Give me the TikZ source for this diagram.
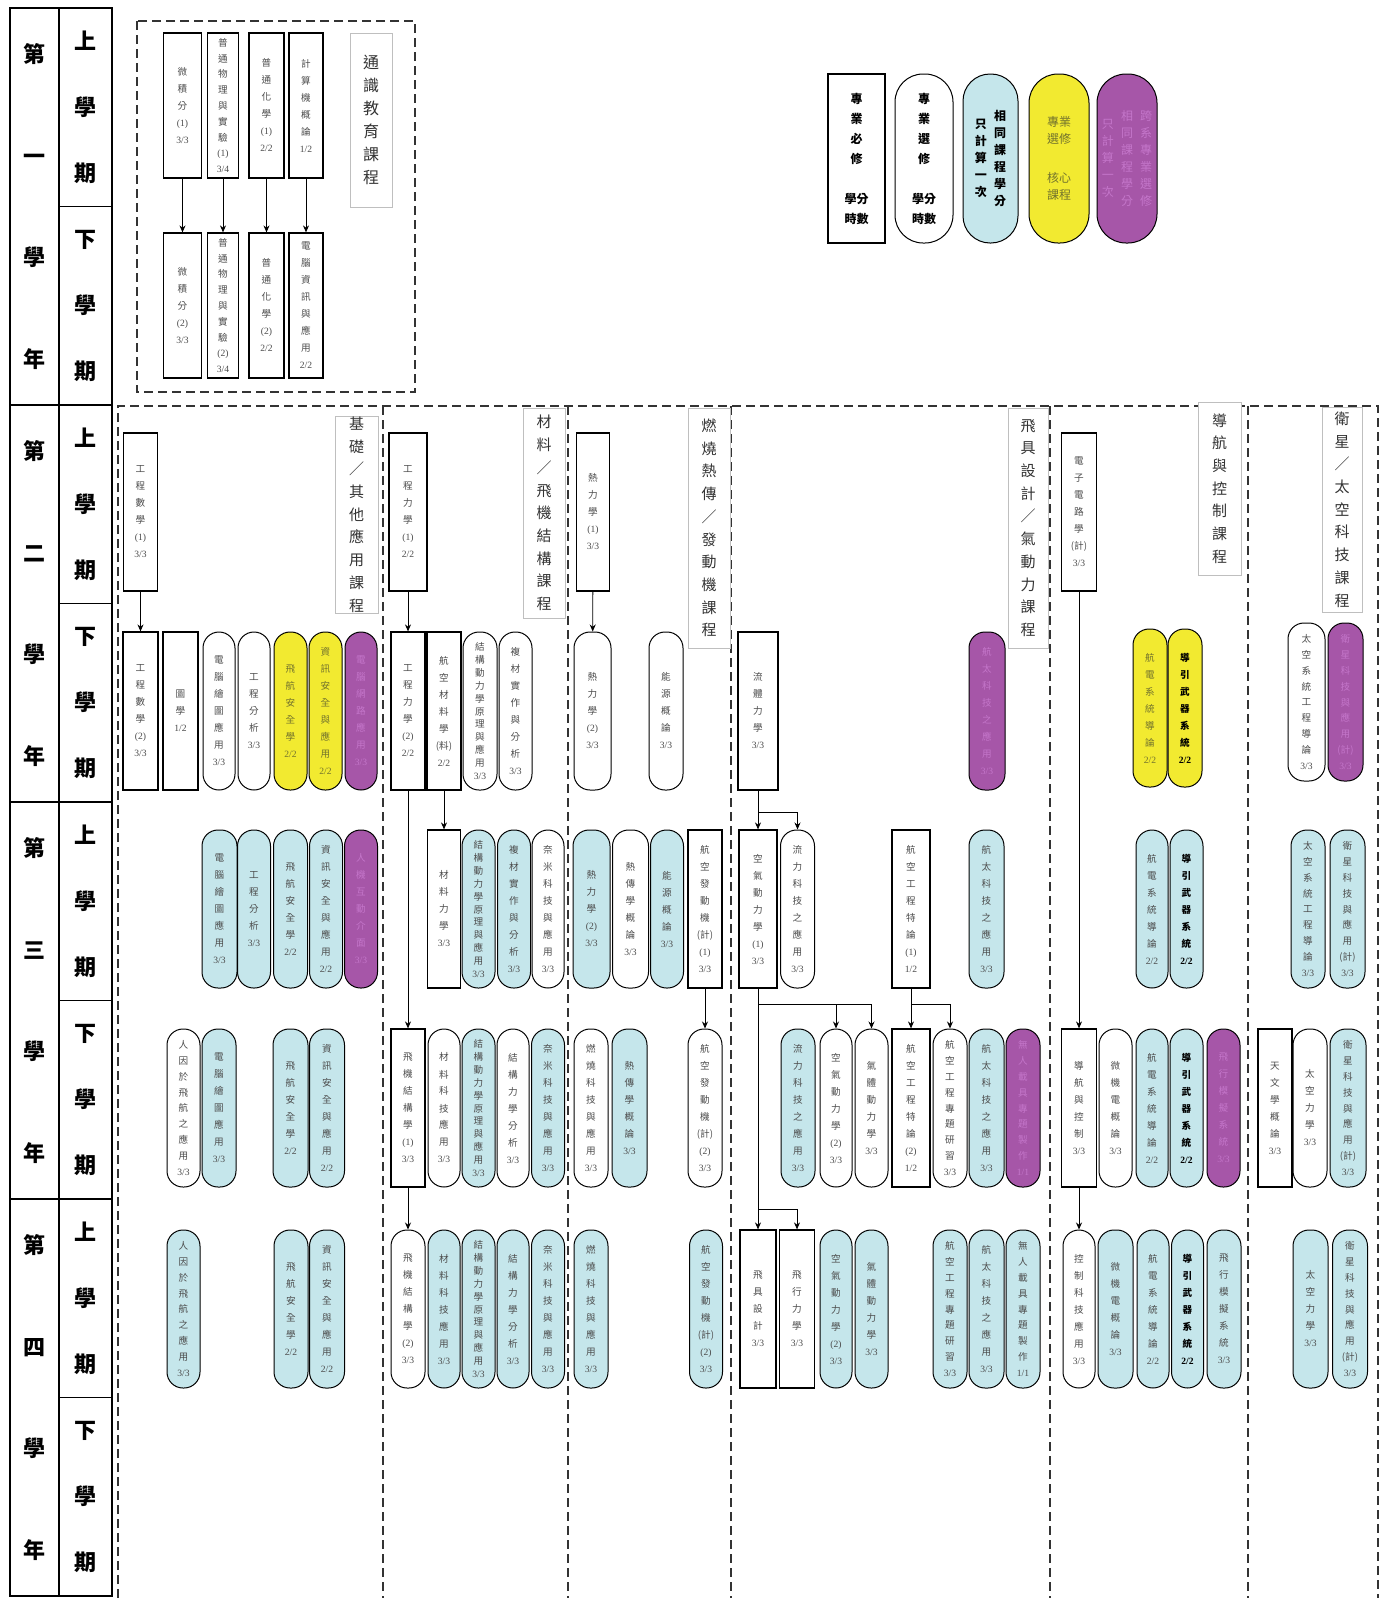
\documentclass[tikz,border=0pt]{standalone}
\usepackage{fontspec}
\setmainfont{Liberation Serif}
\newfontfamily\cjk{Noto Sans CJK TC}
\usetikzlibrary{arrows.meta}

\definecolor{cblue}{RGB}{197,230,235}
\definecolor{cyel}{RGB}{242,234,48}
\definecolor{cpur}{RGB}{166,86,168}
\definecolor{colive}{RGB}{115,115,45}
\definecolor{cpurtxt}{RGB}{196,118,202}

\makeatletter
\newcount\vtn
\newdimen\vtsk
% vertical course text: characters, then number lines
\newcommand\vt[2]{\vbox{\vtn=0
	\@tfor\vch:=#1\do{\advance\vtn by 1 }%
	\@tfor\vch:=#2\do{\advance\vtn by 1 }%
	\vtsk=\dimexpr 142pt/\vtn\relax
	\ifdim\vtsk>17pt \vtsk=17pt \fi
	\baselineskip=\vtsk \lineskiplimit=-\maxdimen
	\@tfor\vch:=#1\do{\hbox to 14pt{\hss\cjk\vch\hss}}%
	\@tfor\vch:=#2\do{\hbox to 14pt{\hss\vch\hss}}}}
\newcommand\vcol[2]{\vbox{\baselineskip=#1\lineskiplimit=-\maxdimen
	\@tfor\vch:=#2\do{\hbox to 1.1em{\hss\vch\hss}}}}
\makeatother
\newcommand\ctr[1]{\hbox to 40pt{\hss#1\hss}}

\tikzset{
	reqbox/.style={draw, line width=1.2pt, fill=white, text=black!70, minimum width=34pt, minimum height=158pt, inner sep=0pt, font=\fontsize{9.6}{9.6}\selectfont},
	optbox/.style={reqbox, line width=1pt, rounded corners=16pt},
	samebox/.style={optbox, fill=cblue},
	corebox/.style={optbox, fill=cyel, text=colive},
	crossbox/.style={optbox, fill=cpur, text=cpurtxt},
	boldtxt/.style={text=black, font=\fontsize{9.6}{9.6}\selectfont\bfseries},
	trackbox/.style={draw=black!25, line width=0.6pt, fill=white, inner sep=0pt, text=black!80, font=\cjk\fontsize{15}{15}\selectfont},
	flowarrow/.style={-{Stealth[length=7pt,width=6pt]}, line width=0.9pt},
	zoneline/.style={draw=black!80, line width=1.3pt, dash pattern=on 9pt off 5pt},
	cellchar/.style={font=\cjk\bfseries\fontsize{22}{22}\selectfont, inner sep=0pt}
}

\begin{document}
\begin{tikzpicture}[x=1pt,y=-1pt]

	\useasboundingbox (0,0) rectangle (1389,1598);

	% year / semester column
	\draw[line width=1.8pt] (10,8) rectangle (112,1596);
	\draw[line width=1.8pt] (59,8) -- (59,1596);
	\foreach \k in {1,2,3}
		\draw[line width=1.8pt] (10,{8+397*\k}) -- (112,{8+397*\k});
	\foreach \k in {0,...,3}
		\draw[line width=1.8pt] (59,{206.5+397*\k}) -- (112,{206.5+397*\k});
	\foreach \yr [count=\i from 0] in {一,二,三,四}{
		\node[cellchar] (year\i) at (34.5,{206.5+397*\i}) {\vcol{101.7pt}{第\yr 學年}};
		\node[cellchar] (up\i) at (85.5,{107.25+397*\i}) {\vcol{66pt}{上學期}};
		\node[cellchar] (down\i) at (85.5,{305.75+397*\i}) {\vcol{66pt}{下學期}};
	}

	% general education
	\draw[zoneline] (137,21) rectangle (415,392);
	\node[trackbox, minimum width=42pt, minimum height=174pt, font=\cjk\fontsize{16}{16}\selectfont] (gened) at (371,120) {\vcol{23pt}{通識教育課程}};

	\node[reqbox, minimum width=38pt, minimum height=145pt] (calc1) at (182.5,105.5) {\vt{微積分}{{(1)}{3/3}}};
	\node[reqbox, minimum width=31pt, minimum height=145pt] (phys1) at (223,105.5) {\vt{普通物理與實驗}{{(1)}{3/4}}};
	\node[reqbox, minimum width=35pt, minimum height=145pt] (chem1) at (266.5,105.5) {\vt{普通化學}{{(1)}{2/2}}};
	\node[reqbox, minimum width=34pt, minimum height=145pt] (cs1) at (306,105.5) {\vt{計算機概論}{{1/2}}};
	\node[reqbox, minimum width=38pt, minimum height=145pt] (calc2) at (182.5,305.5) {\vt{微積分}{{(2)}{3/3}}};
	\node[reqbox, minimum width=31pt, minimum height=145pt] (phys2) at (223,305.5) {\vt{普通物理與實驗}{{(2)}{3/4}}};
	\node[reqbox, minimum width=35pt, minimum height=145pt] (chem2) at (266.5,305.5) {\vt{普通化學}{{(2)}{2/2}}};
	\node[reqbox, minimum width=34pt, minimum height=145pt] (cinfo) at (306,305.5) {\vt{電腦資訊與應用}{{2/2}}};

	\draw[flowarrow] (calc1) -- (calc2);
	\draw[flowarrow] (phys1) -- (phys2);
	\draw[flowarrow] (chem1) -- (chem2);
	\draw[flowarrow] (cs1) -- (cinfo);

	% legend
	\node[reqbox, minimum width=57pt, minimum height=169pt, text=black, font=\cjk\bfseries\fontsize{12}{12}\selectfont] (key1) at (856.5,158.5)
		{\vbox{\baselineskip=20pt\lineskiplimit=-\maxdimen\ctr{專}\ctr{業}\ctr{必}\ctr{修}\vskip20pt\ctr{學分}\ctr{時數}}};
	\node[optbox, rounded corners=28pt, minimum width=58pt, minimum height=169pt, text=black, font=\cjk\bfseries\fontsize{12}{12}\selectfont] (key2) at (924,158.5)
		{\vbox{\baselineskip=20pt\lineskiplimit=-\maxdimen\ctr{專}\ctr{業}\ctr{選}\ctr{修}\vskip20pt\ctr{學分}\ctr{時數}}};
	\node[samebox, rounded corners=27pt, minimum width=55pt, minimum height=169pt, text=black, font=\cjk\bfseries\fontsize{12}{12}\selectfont] (key3) at (990.5,158.5)
		{$\vcenter{\vcol{17pt}{只計算一次}}\kern6pt\vcenter{\vcol{17pt}{相同課程學分}}$};
	\node[corebox, rounded corners=29pt, minimum width=60pt, minimum height=169pt, font=\cjk\fontsize{12}{12}\selectfont] (key4) at (1059,158.5)
		{\vbox{\baselineskip=17pt\lineskiplimit=-\maxdimen\ctr{專業}\ctr{選修}\vskip22pt\ctr{核心}\ctr{課程}}};
	\node[crossbox, rounded corners=29pt, minimum width=60pt, minimum height=169pt, font=\cjk\fontsize{12}{12}\selectfont] (key5) at (1127,158.5)
		{$\vcenter{\vcol{17pt}{只計算一次}}\kern6pt\vcenter{\vcol{17pt}{相同課程學分}}\kern6pt\vcenter{\vcol{17pt}{跨系專業選修}}$};

	% department courses
	\draw[zoneline] (118,1598) -- (118,406) -- (1378,406) -- (1378,1598);
	\foreach \x in {383,568,731,1050,1248}
		\draw[zoneline] (\x,406) -- (\x,1598);

	\node[trackbox, minimum width=43pt, minimum height=197pt] (basic) at (356.5,514.5) {\vcol{22.7pt}{基礎／其他應用課程}};
	\node[trackbox, minimum width=42pt, minimum height=210pt] (matl) at (544,513) {\vcol{22.7pt}{材料／飛機結構課程}};
	\node[trackbox, minimum width=42pt, minimum height=240pt] (prop) at (709,528) {\vcol{22.7pt}{燃燒熱傳／發動機課程}};
	\node[trackbox, minimum width=40pt, minimum height=240pt] (vehi) at (1028,528) {\vcol{22.7pt}{飛具設計／氣動力課程}};
	\node[trackbox, minimum width=43pt, minimum height=173pt] (navi) at (1219.5,488.5) {\vcol{22.7pt}{導航與控制課程}};
	\node[trackbox, minimum width=40pt, minimum height=205pt] (space) at (1342,509.5) {\vcol{22.7pt}{衛星／太空科技課程}};

	% year 2, first semester
	\node[reqbox] (em1) at (140.5,512) {\vt{工程數學}{{(1)}{3/3}}};
	\node[reqbox, minimum width=38pt] (mech1) at (408,512) {\vt{工程力學}{{(1)}{2/2}}};
	\node[reqbox, minimum width=33pt] (thermo1) at (593,512) {\vt{熱力學}{{(1)}{3/3}}};
	\node[reqbox, minimum width=35pt] (elec) at (1079,512) {\vt{電子電路學}{{\cjk(計)}{3/3}}};

	% year 2, second semester
	\node[reqbox, minimum width=35pt] (em2) at (140.5,711) {\vt{工程數學}{{(2)}{3/3}}};
	\node[reqbox, minimum width=35pt] (graph) at (180.5,711) {\vt{圖學}{{1/2}}};
	\node[optbox, minimum width=32pt] (cad2) at (219,711) {\vt{電腦繪圖應用}{{3/3}}};
	\node[optbox, minimum width=32pt] (ana2) at (254,711) {\vt{工程分析}{{3/3}}};
	\node[corebox, minimum width=33pt] (safe2) at (290.5,711) {\vt{飛航安全學}{{2/2}}};
	\node[corebox, minimum width=33pt] (info2) at (325.5,711) {\vt{資訊安全與應用}{{2/2}}};
	\node[crossbox, minimum width=32pt] (net2) at (361,711) {\vt{電腦網路應用}{{3/3}}};
	\node[reqbox] (mech2) at (408,711) {\vt{工程力學}{{(2)}{2/2}}};
	\node[reqbox] (amat) at (444,711) {\vt{航空材料學}{{\cjk(料)}{2/2}}};
	\node[optbox] (sdyn2) at (480,711) {\vt{結構動力學原理與應用}{{3/3}}};
	\node[optbox, minimum width=33pt] (comp2) at (515.5,711) {\vt{複材實作與分析}{{3/3}}};
	\node[optbox, minimum width=37pt] (thermo2) at (592.5,711) {\vt{熱力學}{{(2)}{3/3}}};
	\node[optbox] (energy2) at (666,711) {\vt{能源概論}{{3/3}}};
	\node[reqbox, minimum width=40pt] (fluid) at (758,711) {\vt{流體力學}{{3/3}}};
	\node[crossbox, minimum width=36pt] (aero2) at (987,711) {\vt{航太科技之應用}{{3/3}}};
	\node[corebox] (avio2) at (1150,708) {\vt{航電系統導論}{{2/2}}};
	\node[corebox, boldtxt] (guid2) at (1185,708) {\vt{導引武器系統}{{2/2}}};
	\node[optbox, minimum width=37pt] (sse2) at (1306.5,702) {\vt{太空系統工程導論}{{3/3}}};
	\node[crossbox, minimum width=35pt] (sat2) at (1345.5,702) {\vt{衛星科技與應用}{{\cjk(計)}{3/3}}};

	% year 3, first semester
	\node[samebox, minimum width=35pt] (cad3) at (219.5,909) {\vt{電腦繪圖應用}{{3/3}}};
	\node[samebox, minimum width=33pt] (ana3) at (254,909) {\vt{工程分析}{{3/3}}};
	\node[samebox] (safe3) at (290.5,909) {\vt{飛航安全學}{{2/2}}};
	\node[samebox, minimum width=33pt] (info3) at (326,909) {\vt{資訊安全與應用}{{2/2}}};
	\node[crossbox, minimum width=33pt] (hci3) at (361,909) {\vt{人機互動介面}{{3/3}}};
	\node[reqbox, minimum width=33pt] (mom) at (444,909) {\vt{材料力學}{{3/3}}};
	\node[samebox, minimum width=33pt] (sdyn3) at (478.5,909) {\vt{結構動力學原理與應用}{{3/3}}};
	\node[samebox, minimum width=33pt] (comp3) at (514,909) {\vt{複材實作與分析}{{3/3}}};
	\node[optbox, minimum width=32pt] (nano3) at (548,909) {\vt{奈米科技與應用}{{3/3}}};
	\node[samebox, minimum width=37pt] (thermo3) at (591.5,909) {\vt{熱力學}{{(2)}{3/3}}};
	\node[optbox, minimum width=36pt] (heat3) at (630.5,909) {\vt{熱傳學概論}{{3/3}}};
	\node[samebox, minimum width=33pt] (energy3) at (667,909) {\vt{能源概論}{{3/3}}};
	\node[reqbox] (eng1) at (705,909) {\vt{航空發動機}{{\cjk(計)}{(1)}{3/3}}};
	\node[reqbox, minimum width=38pt] (aed1) at (758,909) {\vt{空氣動力學}{{(1)}{3/3}}};
	\node[optbox] (fta3) at (797.5,909) {\vt{流力科技之應用}{{3/3}}};
	\node[reqbox, minimum width=38pt] (spec1) at (911,909) {\vt{航空工程特論}{{(1)}{1/2}}};
	\node[samebox, minimum width=35pt] (aero3) at (986.5,909) {\vt{航太科技之應用}{{3/3}}};
	\node[samebox, minimum width=32pt] (avio3) at (1152,909) {\vt{航電系統導論}{{2/2}}};
	\node[samebox, boldtxt, minimum width=33pt] (guid3) at (1186.5,909) {\vt{導引武器系統}{{2/2}}};
	\node[samebox] (sse3) at (1308,909) {\vt{太空系統工程導論}{{3/3}}};
	\node[samebox, minimum width=35pt] (sat3) at (1347.5,909) {\vt{衛星科技與應用}{{\cjk(計)}{3/3}}};

	% year 3, second semester
	\node[optbox, minimum width=33pt] (hf3) at (183.5,1108) {\vt{人因於飛航之應用}{{3/3}}};
	\node[samebox] (cad3l) at (219,1108) {\vt{電腦繪圖應用}{{3/3}}};
	\node[samebox, minimum width=35pt] (safe3l) at (290.5,1108) {\vt{飛航安全學}{{2/2}}};
	\node[samebox, minimum width=35pt] (info3l) at (327,1108) {\vt{資訊安全與應用}{{2/2}}};
	\node[reqbox] (struc1) at (408,1108) {\vt{飛機結構學}{{(1)}{3/3}}};
	\node[optbox, minimum width=32pt] (mst3) at (444,1108) {\vt{材料科技應用}{{3/3}}};
	\node[samebox, minimum width=33pt] (sdyn3l) at (478.5,1108) {\vt{結構動力學原理與應用}{{3/3}}};
	\node[optbox, minimum width=32pt] (sma3) at (513,1108) {\vt{結構力學分析}{{3/3}}};
	\node[samebox, minimum width=33pt] (nano3l) at (548,1108) {\vt{奈米科技與應用}{{3/3}}};
	\node[optbox] (comb3) at (591,1108) {\vt{燃燒科技與應用}{{3/3}}};
	\node[samebox, minimum width=35pt] (heat3l) at (629.5,1108) {\vt{熱傳學概論}{{3/3}}};
	\node[optbox] (eng2) at (705,1108) {\vt{航空發動機}{{\cjk(計)}{(2)}{3/3}}};
	\node[samebox] (fta3l) at (798,1108) {\vt{流力科技之應用}{{3/3}}};
	\node[optbox, minimum width=32pt] (aed2) at (836,1108) {\vt{空氣動力學}{{(2)}{3/3}}};
	\node[optbox, minimum width=33pt] (gas) at (871.5,1108) {\vt{氣體動力學}{{3/3}}};
	\node[reqbox, minimum width=38pt] (spec2) at (911,1108) {\vt{航空工程特論}{{(2)}{1/2}}};
	\node[optbox] (proj) at (950,1108) {\vt{航空工程專題研習}{{3/3}}};
	\node[samebox, minimum width=35pt] (aero3l) at (986.5,1108) {\vt{航太科技之應用}{{3/3}}};
	\node[crossbox] (uav) at (1023,1108) {\vt{無人載具專題製作}{{1/1}}};
	\node[reqbox, minimum width=35pt] (navc) at (1079,1108) {\vt{導航與控制}{{3/3}}};
	\node[optbox, minimum width=33pt] (mems) at (1115.5,1108) {\vt{微機電概論}{{3/3}}};
	\node[samebox, minimum width=32pt] (avio3l) at (1152,1108) {\vt{航電系統導論}{{2/2}}};
	\node[samebox, boldtxt, minimum width=33pt] (guid3l) at (1186.5,1108) {\vt{導引武器系統}{{2/2}}};
	\node[crossbox, minimum width=33pt] (sim) at (1223.5,1108) {\vt{飛行模擬系統}{{3/3}}};
	\node[reqbox] (astro) at (1275,1108) {\vt{天文學概論}{{3/3}}};
	\node[optbox] (smech) at (1310,1108) {\vt{太空力學}{{3/3}}};
	\node[samebox, minimum width=36pt] (sat3l) at (1348,1108) {\vt{衛星科技與應用}{{\cjk(計)}{3/3}}};

	% year 4, first semester
	\node[samebox, minimum width=33pt] (hf4) at (183.5,1309) {\vt{人因於飛航之應用}{{3/3}}};
	\node[samebox] (safe4) at (291,1309) {\vt{飛航安全學}{{2/2}}};
	\node[samebox, minimum width=35pt] (info4) at (327,1309) {\vt{資訊安全與應用}{{2/2}}};
	\node[optbox] (struc2) at (408,1309) {\vt{飛機結構學}{{(2)}{3/3}}};
	\node[samebox, minimum width=32pt] (mst4) at (444,1309) {\vt{材料科技應用}{{3/3}}};
	\node[samebox, minimum width=33pt] (sdyn4) at (478.5,1309) {\vt{結構動力學原理與應用}{{3/3}}};
	\node[samebox, minimum width=32pt] (sma4) at (513,1309) {\vt{結構力學分析}{{3/3}}};
	\node[samebox, minimum width=33pt] (nano4) at (548,1309) {\vt{奈米科技與應用}{{3/3}}};
	\node[samebox] (comb4) at (591,1309) {\vt{燃燒科技與應用}{{3/3}}};
	\node[samebox, minimum width=33pt] (eng3) at (706,1309) {\vt{航空發動機}{{\cjk(計)}{(2)}{3/3}}};
	\node[reqbox, minimum width=36pt] (vdes) at (758,1309) {\vt{飛具設計}{{3/3}}};
	\node[reqbox, minimum width=35pt] (fmech) at (797,1309) {\vt{飛行力學}{{3/3}}};
	\node[samebox, minimum width=32pt] (aed3) at (836,1309) {\vt{空氣動力學}{{(2)}{3/3}}};
	\node[samebox, minimum width=33pt] (gas4) at (871.5,1309) {\vt{氣體動力學}{{3/3}}};
	\node[samebox] (proj4) at (950,1309) {\vt{航空工程專題研習}{{3/3}}};
	\node[samebox, minimum width=35pt] (aero4) at (986.5,1309) {\vt{航太科技之應用}{{3/3}}};
	\node[samebox] (uav4) at (1023,1309) {\vt{無人載具專題製作}{{1/1}}};
	\node[optbox, minimum width=32pt] (ctrl) at (1079,1309) {\vt{控制科技應用}{{3/3}}};
	\node[samebox, minimum width=35pt] (mems4) at (1115.5,1309) {\vt{微機電概論}{{3/3}}};
	\node[samebox, minimum width=32pt] (avio4) at (1153,1309) {\vt{航電系統導論}{{2/2}}};
	\node[samebox, boldtxt, minimum width=32pt] (guid4) at (1187.5,1309) {\vt{導引武器系統}{{2/2}}};
	\node[samebox] (sim4) at (1224,1309) {\vt{飛行模擬系統}{{3/3}}};
	\node[samebox, minimum width=35pt] (smech4) at (1310.5,1309) {\vt{太空力學}{{3/3}}};
	\node[samebox, minimum width=35pt] (sat4) at (1350,1309) {\vt{衛星科技與應用}{{\cjk(計)}{3/3}}};

	% prerequisites
	\draw[flowarrow] (em1) -- (em2);
	\draw[flowarrow] (mech1) -- (mech2);
	\draw[flowarrow] (mech2) -- (struc1);
	\draw[flowarrow] (struc1) -- (struc2);
	\draw[flowarrow] (amat) -- (mom);
	\draw[flowarrow] (thermo1) -- (thermo2);
	\draw[flowarrow] (eng1) -- (eng2);
	\draw[flowarrow] (fluid) -- (aed1);
	\draw[flowarrow] (fluid.south) ++(0,22) -| (fta3.north);
	\draw[flowarrow] (aed1) -- (vdes);
	\draw[flowarrow] (aed1.south) ++(0,16) -| (aed2.north);
	\draw[flowarrow] (aed1.south) ++(0,16) -| (gas.north);
	\draw[flowarrow] (vdes.north) ++(0,-20) -| (fmech.north);
	\draw[flowarrow] (spec1) -- (spec2);
	\draw[flowarrow] (spec1.south) ++(0,16) -| (proj.north);
	\draw[flowarrow] (elec) -- (navc);
	\draw[flowarrow] (navc) -- (ctrl);

\end{tikzpicture}
\end{document}
